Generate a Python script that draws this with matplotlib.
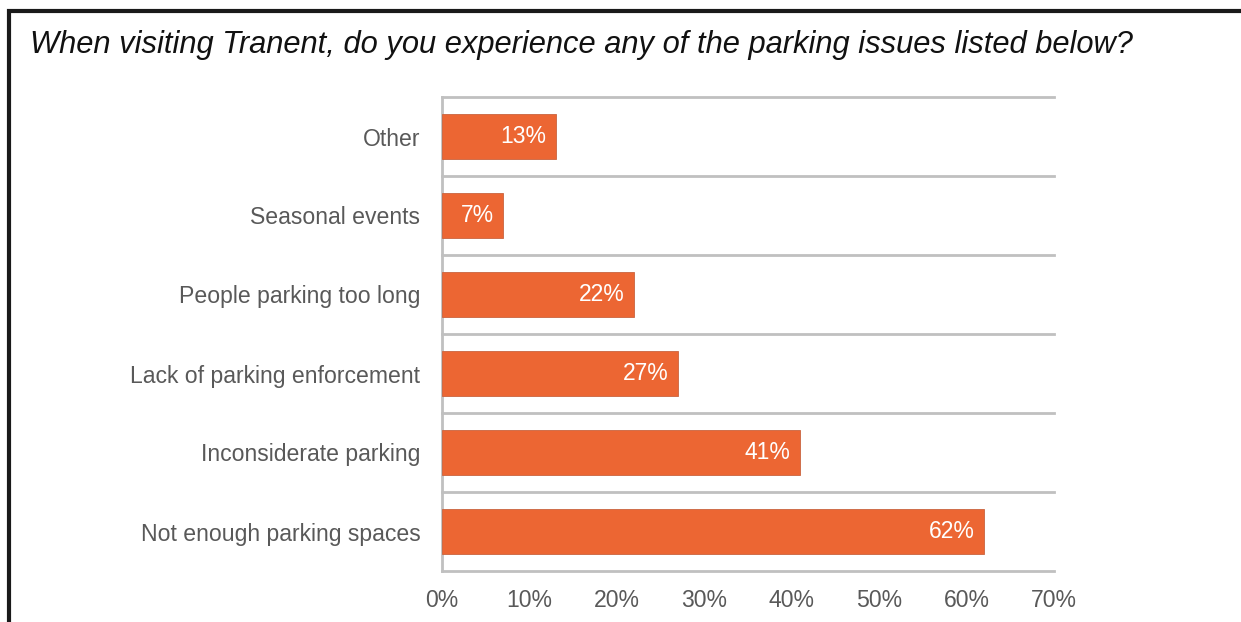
import matplotlib.pyplot as plt
from matplotlib.patches import Rectangle
from matplotlib.ticker import FuncFormatter

plt.rcParams['font.family'] = ['Liberation Sans', 'DejaVu Sans']

categories = ["Not enough parking spaces", "Inconsiderate parking",
              "Lack of parking enforcement", "People parking too long",
              "Seasonal events", "Other"]
values = [62, 41, 27, 22, 7, 13]
xticks = [0, 10, 20, 30, 40, 50, 60, 70]

BAR = "#EC6633"
GRID = "#C0C0C0"
TEXT = "#595959"

fig = plt.figure(figsize=(12.41, 6.22), dpi=100)

# outer frame (left and top edges only)
fig.add_artist(Rectangle((9 / 1241, -0.1), 1.2, (1 - 11 / 622) + 0.1,
                         transform=fig.transFigure, fill=False,
                         edgecolor="#1a1a1a", linewidth=3))

fig.text(30 / 1241, 1 - 45 / 622,
         "When visiting Tranent, do you experience any of the parking issues listed below?",
         fontsize=22.2, style="italic", color="#111111", va="center", ha="left")

ax = fig.add_axes([442 / 1241, 1 - 571 / 622, (1054 - 442) / 1241, (571 - 97) / 622])
y = range(len(categories))
ax.barh(y, values, height=0.56, color=BAR, edgecolor="#c9643f", linewidth=0.6, zorder=3)

for yi, v in zip(y, values):
    ax.text(v - 1.1, yi, f"{v}%", color="white", fontsize=16.5,
            ha="right", va="center", zorder=4)

ax.set_xlim(0, 70)
ax.set_ylim(-0.5, len(categories) - 0.5)
ax.set_xticks(xticks)
ax.xaxis.set_major_formatter(FuncFormatter(lambda x, _: f"{x:.0f}%"))
ax.set_yticks(list(y))
ax.set_yticklabels(categories)
ax.set_yticks([i - 0.5 for i in range(len(categories) + 1)], minor=True)
ax.grid(axis="y", which="minor", color=GRID, linewidth=2, zorder=1)
for t in ax.yaxis.get_minor_ticks():
    t.gridline.set_clip_on(False)
ax.tick_params(axis="both", which="both", length=0, colors=TEXT, labelsize=16.6)
ax.tick_params(axis="x", pad=13)
ax.tick_params(axis="y", pad=15.5)

for side in ["top", "right", "bottom"]:
    ax.spines[side].set_visible(False)
ax.spines["left"].set_color(GRID)
ax.spines["left"].set_linewidth(2)

fig.savefig("out.png", dpi=100)
